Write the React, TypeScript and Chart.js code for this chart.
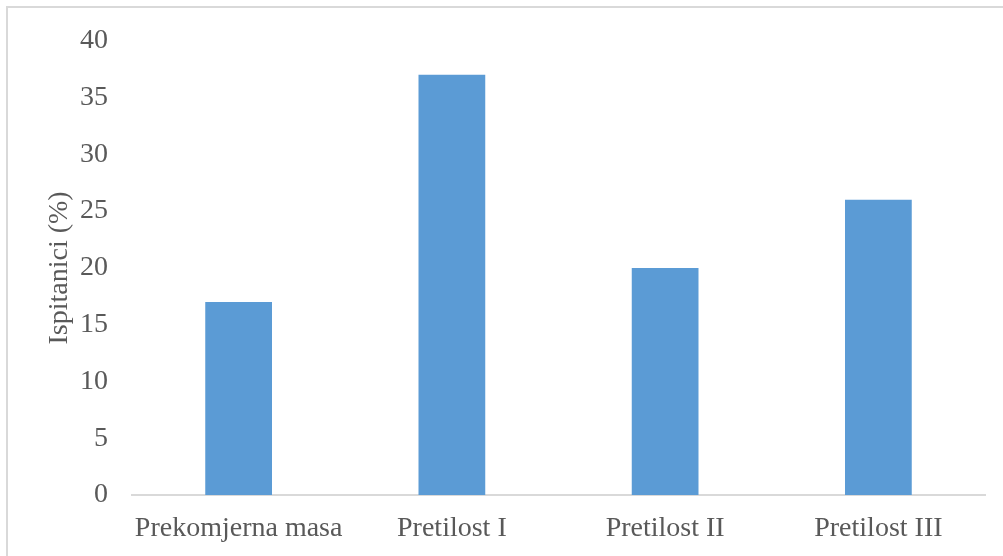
import React, { useEffect, useRef } from "react";
import { Chart, registerables } from "chart.js";

Chart.register(...registerables);

const categories = ["Prekomjerna masa", "Pretilost I", "Pretilost II", "Pretilost III"];
const values = [17, 37, 20, 26];
const yTitle = "Ispitanici (%)";

const FONT = "'Liberation Serif', 'Times New Roman', serif";
const TEXT = "#595959";

export default function App() {
  const ref = useRef<HTMLCanvasElement | null>(null);

  useEffect(() => {
    if (!ref.current) return;
    const chart = new Chart(ref.current, {
      type: "bar",
      data: {
        labels: categories,
        datasets: [
          {
            data: values,
            backgroundColor: "#5B9BD5",
            borderWidth: 0,
            categoryPercentage: 1,
            barPercentage: 0.313,
          },
        ],
      },
      options: {
        animation: false,
        responsive: false,
        maintainAspectRatio: false,
        layout: { padding: { top: 32, right: 18, bottom: 0, left: 0 } },
        plugins: { legend: { display: false }, tooltip: { enabled: false } },
        scales: {
          x: {
            grid: { display: false, drawTicks: false },
            border: { display: true, color: "#D9D9D9", width: 2 },
            ticks: { color: TEXT, font: { family: FONT, size: 28 }, padding: 17, maxRotation: 0 },
            afterFit: (s: any) => {
              s.height = 61;
            },
          },
          y: {
            min: 0,
            max: 40,
            ticks: { stepSize: 5, color: TEXT, font: { family: FONT, size: 28 }, padding: 24 },
            grid: { display: false, drawTicks: false },
            border: { display: false },
            title: {
              display: true,
              text: yTitle,
              color: TEXT,
              font: { family: FONT, size: 28, weight: "normal" },
              padding: { top: 43, bottom: 0 },
            },
            afterFit: (s: any) => {
              s.width = 132;
            },
          },
        },
      },
    });
    return () => chart.destroy();
  }, []);

  return (
    <div style={{ position: "absolute", left: 0, top: 0, width: 1003, height: 556, background: "#fff" }}>
      <div
        style={{
          position: "absolute",
          left: 6,
          top: 6,
          width: 997,
          height: 550,
          borderTop: "2px solid #D9D9D9",
          borderLeft: "2px solid #D9D9D9",
          boxSizing: "border-box",
        }}
      />
      <canvas ref={ref} width={1003} height={556} style={{ position: "absolute", left: 0, top: 0, width: 1003, height: 556 }} />
    </div>
  );
}
